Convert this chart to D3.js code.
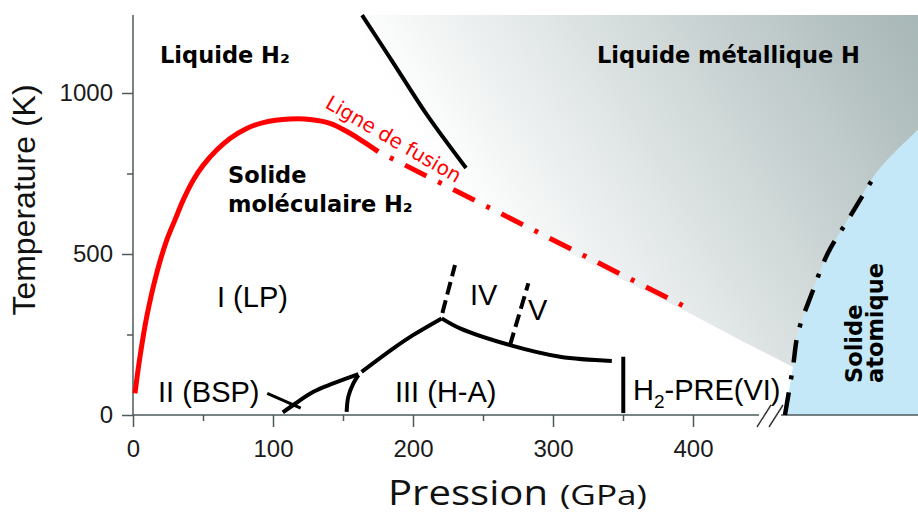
<!DOCTYPE html>
<html><head><meta charset="utf-8">
<script src="https://cdn.jsdelivr.net/npm/d3@7"></script>
<style>body{margin:0;background:#fff}svg{display:block}</style>
</head><body><svg id="c" width="918" height="514"></svg>
<script>
// ---------- data (pressure GPa, temperature K) ----------
const pressureTicks = [0, 100, 200, 300, 400];
const pressureMinorTicks = [50, 150, 250, 350];
const tempTicks = [0, 500, 1000];
const tempMinorTicks = [250, 750];

const meltingSolid = [[1.4,67],[5,181],[9.8,305],[16.9,440],[24.1,543],[30,606],[35.9,668],[43.1,730],[50.2,776],[59.8,823],[69.3,859],[81.2,890],[93.1,908],[112.1,919],[126.4,918],[140.7,906],[155,875],[164.5,849],[175.2,818]];
const meltingDashed = [[175.2,818],[395,335]];
const liquidBoundary = [[163.6,1242],[186,1093],[210,932],[237.9,767]];
const bspPointer = [[95.9,67],[119.8,21]];
const lineII = [[107,8],[114.5,31],[128.8,72],[143,98],[161,127]];
const lineIIIa = [[152.6,10],[153.8,57],[157.4,98],[161,124]];
const lineI_III = [[163.3,134],[186,207],[200,248],[220.5,300]];
const lineIV = [[221,317],[230,466]];
const lineIII_IV = [[220.5,300],[233.6,269],[269.3,217],[305,181],[342,168]];
const lineV = [[269.3,217],[282.4,409]];
const linePRE = [[350.2,181],[350.2,6]];
const atomicBoundary = [[465.7,0],[471.4,149],[475,255],[485,379],[496.4,503],[512,615],[531.4,755],[560.7,885],[575,940]];
const atomicDashedCount = 7; // points of atomicBoundary carrying the dash-dot line
const metalRegionLower = [[471.4,149],[433.6,233],[395,322],[290,548],[176,800]];

const svg = d3.select("#c");
const x = d3.scaleLinear().domain([0, 400]).range([133, 693]);
const y = d3.scaleLinear().domain([0, 1000]).range([415, 93]);
const Tmax = y.invert(15), Pmax = x.invert(930);

// ---------- gradient ----------
const defs = svg.append("defs");
const g1 = defs.append("linearGradient").attr("id","metal").attr("gradientUnits","userSpaceOnUse")
  .attr("x1",500).attr("y1",270).attr("x2",918).attr("y2",15);
g1.append("stop").attr("offset",0).attr("stop-color","#ffffff");
g1.append("stop").attr("offset",1).attr("stop-color","#a7b6b6");

const line = d3.line().x(d=>x(d[0])).y(d=>y(d[1]));
const smooth = d3.line().x(d=>x(d[0])).y(d=>y(d[1])).curve(d3.curveCatmullRom.alpha(0.5));

// metallic liquid region
const metalPoly = [[liquidBoundary[0][0],Tmax],[Pmax,Tmax]]
  .concat(atomicBoundary.slice().reverse().filter(d=>d[1]>=149))
  .concat(metalRegionLower.slice(1));
svg.append("path").attr("d", line(metalPoly)+"Z").attr("fill","url(#metal)");

// atomic solid region
svg.append("path").attr("d", smooth(atomicBoundary)+"L"+x(Pmax)+","+y(Tmax)+"L"+x(Pmax)+","+y(0)+"Z").attr("fill","#c4e8f7");

// ---------- axes ----------
const axisCol = "#4e5a5a";
const fmt = d3.format("d");
const xa = svg.append("g").attr("transform",`translate(0,${y(0)})`)
  .call(d3.axisBottom(x).tickValues(pressureTicks).tickFormat(fmt).tickSize(12).tickPadding(13).tickSizeOuter(0));
const xm = svg.append("g").attr("transform",`translate(0,${y(0)})`)
  .call(d3.axisBottom(x).tickValues(pressureMinorTicks).tickSize(6).tickFormat("").tickSizeOuter(0));
const ya = svg.append("g").attr("transform",`translate(${x(0)},0)`)
  .call(d3.axisLeft(y).tickValues(tempTicks).tickFormat(fmt).tickSize(11).tickPadding(9).tickSizeOuter(0));
const ym = svg.append("g").attr("transform",`translate(${x(0)},0)`)
  .call(d3.axisLeft(y).tickValues(tempMinorTicks).tickSize(6).tickFormat("").tickSizeOuter(0));
[xa,xm,ya,ym].forEach(a=>{
  a.select(".domain").remove();
  a.selectAll("line").attr("stroke",axisCol).attr("stroke-width",1.5);
  a.selectAll("text").attr("font-family","Liberation Sans, Arial, sans-serif").attr("font-size",24).attr("fill","#1a1a1a");
});
// axis lines with break
svg.append("line").attr("x1",x(0)).attr("x2",x(0)).attr("y1",15).attr("y2",y(0)).attr("stroke",axisCol).attr("stroke-width",1.5);
svg.append("line").attr("x1",x(0)).attr("x2",759).attr("y1",y(0)).attr("y2",y(0)).attr("stroke",axisCol).attr("stroke-width",1.5);
svg.append("line").attr("x1",781).attr("x2",918).attr("y1",y(0)).attr("y2",y(0)).attr("stroke",axisCol).attr("stroke-width",1.5);
svg.append("line").attr("x1",757).attr("y1",427).attr("x2",771).attr("y2",405).attr("stroke","#333").attr("stroke-width",1.4);
svg.append("line").attr("x1",769).attr("y1",427).attr("x2",783).attr("y2",405).attr("stroke","#333").attr("stroke-width",1.4);

// ---------- curves ----------
svg.append("path").attr("d",smooth(meltingSolid)).attr("fill","none").attr("stroke","#ff0000").attr("stroke-width",5);
svg.append("path").attr("d",line(meltingDashed)).attr("fill","none").attr("stroke","#ff0000").attr("stroke-width",5)
  .attr("stroke-dasharray","24,13,4,13").attr("stroke-dashoffset",24);
svg.append("path").attr("d",smooth(liquidBoundary)).attr("fill","none").attr("stroke","#000").attr("stroke-width",4);
svg.append("path").attr("d",smooth(atomicBoundary.slice(0,atomicDashedCount))).attr("fill","none").attr("stroke","#000").attr("stroke-width",4.5)
  .attr("stroke-dasharray","23,13,4,13");
const solidLines = [lineII, lineIIIa, lineI_III, lineIII_IV, linePRE];
solidLines.forEach(l=>svg.append("path").attr("d",smooth(l)).attr("fill","none").attr("stroke","#000").attr("stroke-width",4).attr("stroke-linecap","butt"));
svg.append("path").attr("d",line(bspPointer)).attr("fill","none").attr("stroke","#000").attr("stroke-width",3);
[lineIV, lineV].forEach(l=>svg.append("path").attr("d",line(l)).attr("fill","none").attr("stroke","#000").attr("stroke-width",4).attr("stroke-dasharray","13,6"));

// ---------- labels ----------
const bold = "DejaVu Sans, sans-serif";
const arial = "Liberation Sans, Arial, sans-serif";
function txt(t,x0,y0,font,size,weight,fill){
  return svg.append("text").attr("x",x0).attr("y",y0).attr("font-family",font).attr("font-size",size)
    .attr("font-weight",weight||"normal").attr("fill",fill||"#000").text(t);
}
txt("Liquide H₂",160,63,bold,22.5,"bold");
txt("Liquide métallique H",597,63,bold,22.5,"bold");
txt("Solide",228,183,bold,22.5,"bold");
txt("moléculaire H₂",228,212,bold,22.5,"bold");
svg.append("text").attr("transform","translate(862,383) rotate(-90)").attr("font-family",bold).attr("font-size",22.5).attr("font-weight","bold").text("Solide");
svg.append("text").attr("transform","translate(883,383) rotate(-90)").attr("font-family",bold).attr("font-size",22.5).attr("font-weight","bold").text("atomique");
svg.append("text").attr("transform","translate(324,107) rotate(30)").attr("font-family","DejaVu Sans, sans-serif").attr("font-size",20).attr("fill","#ff0000").text("Ligne de fusion");

txt("I (LP)",217,307,arial,29);
txt("II (BSP)",158,402,arial,29);
txt("III (H-A)",395,402,arial,29);
txt("IV",470,305,arial,29);
txt("V",528,320,arial,29);
const pre = txt("H",633,400,arial,29);
pre.append("tspan").attr("font-size",19).attr("dy",8).text("2");
pre.append("tspan").attr("dy",-8).text("-PRE(VI)");

// axis titles
svg.append("text").attr("transform","translate(35,200) rotate(-90)").attr("text-anchor","middle")
  .attr("font-family",arial).attr("font-size",32).attr("fill","#111").text("Temperature (K)");
svg.append("text").attr("x",388).attr("y",505).attr("font-family","Open Sans, sans-serif").attr("font-size",34)
  .attr("textLength",160).attr("lengthAdjust","spacingAndGlyphs").attr("fill","#111").text("Pression");
svg.append("text").attr("x",560).attr("y",505).attr("font-family","Open Sans, sans-serif").attr("font-size",27)
  .attr("textLength",87).attr("lengthAdjust","spacingAndGlyphs").attr("fill","#111").text("(GPa)");
</script></body></html>
